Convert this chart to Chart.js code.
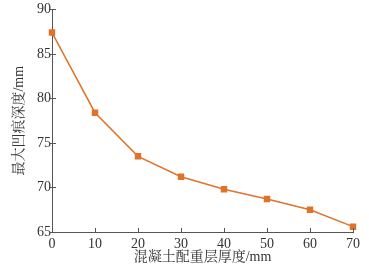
<!DOCTYPE html>
<html><head><meta charset="utf-8">
<script src="https://cdn.jsdelivr.net/npm/chart.js@4/dist/chart.umd.min.js"></script>
<style>html,body{margin:0;padding:0;background:#fff}#w{width:369px;height:274px}</style>
</head><body><div id="w"><canvas id="c"></canvas></div>
<script>
const thickness = [0, 10, 20, 30, 40, 50, 60, 70];
const depth = [87.4, 78.4, 73.5, 71.2, 69.8, 68.7, 67.5, 65.6];
const xTitle = '混凝土配重层厚度/mm';
const yTitle = '最大凹痕深度/mm';

const serif = '"Liberation Serif", "Noto Serif CJK SC", "Noto Sans CJK SC", serif';
const innerTicks = {
  id: 'innerTicks',
  afterDraw(chart) {
    const ctx = chart.ctx, a = chart.chartArea;
    const xs = chart.scales.x, ys = chart.scales.y;
    ctx.save();
    ctx.strokeStyle = '#555'; ctx.lineWidth = 1;
    ctx.beginPath();
    xs.ticks.forEach(t => { const p = Math.round(xs.getPixelForValue(t.value)) + 0.5; ctx.moveTo(p, a.bottom); ctx.lineTo(p, a.bottom - 4); });
    ys.ticks.forEach(t => { const p = Math.round(ys.getPixelForValue(t.value)) + 0.5; ctx.moveTo(a.left - 2, p); ctx.lineTo(a.left + 4, p); });
    ctx.stroke();
    ctx.restore();
  }
};

new Chart(document.getElementById('c'), {
  type: 'line',
  data: { datasets: [{
    data: thickness.map((x, i) => ({ x, y: depth[i] })),
    borderColor: '#E0732A', backgroundColor: '#E0732A', borderWidth: 1.5,
    pointStyle: 'rect', pointRadius: 3.5, tension: 0, clip: false
  }]},
  options: {
    responsive: true, maintainAspectRatio: false, animation: false,
    layout: { padding: { top: 8, right: 16, left: 0, bottom: 0 } },
    plugins: { legend: { display: false }, tooltip: { enabled: false } },
    scales: {
      x: {
        type: 'linear', min: 0, max: 70,
        ticks: { stepSize: 10, color: '#333', font: { family: serif, size: 14 }, padding: 4, maxRotation: 0 },
        grid: { display: false, drawTicks: false },
        border: { color: '#555', width: 1 },
        title: { display: true, text: xTitle, color: '#333', font: { family: serif, size: 14 }, padding: { top: 0, bottom: 8 } },
        afterFit(s) { s.height = 42; }
      },
      y: {
        min: 65, max: 90,
        ticks: { stepSize: 5, color: '#333', font: { family: serif, size: 14 }, padding: 1 },
        grid: { display: false, drawTicks: false },
        border: { color: '#555', width: 1 },
        title: { display: true, text: yTitle, color: '#333', font: { family: serif, size: 14 }, padding: { top: 11, bottom: 0 } },
        afterFit(s) { s.width = 52; }
      }
    }
  },
  plugins: [innerTicks]
});
</script></body></html>
